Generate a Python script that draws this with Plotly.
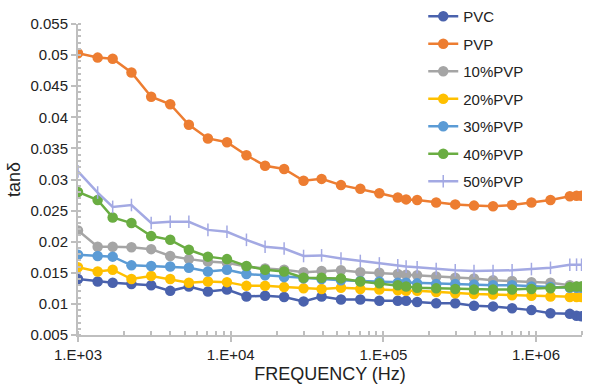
import plotly.graph_objects as go

freq = [1000, 1345, 1687, 2239, 3015, 4018, 5323, 7096, 9456, 12685,
        16800, 22387, 30017, 39390, 52780, 70630, 94120, 124310, 140930, 166460,
        221830, 295660, 392340, 522800, 696800, 932900, 1243000, 1664000, 1842000, 1986000]

pvc = [0.0140, 0.0136, 0.0134, 0.0132, 0.0130, 0.0121, 0.0128, 0.0120, 0.0123, 0.0112,
       0.0113, 0.0111, 0.0104, 0.0112, 0.0107, 0.0107, 0.0105, 0.0105, 0.0105, 0.0103,
       0.0101, 0.0101, 0.0097, 0.0096, 0.0093, 0.0090, 0.0085, 0.0084, 0.0081, 0.0080]
pvp = [0.0503, 0.0496, 0.0494, 0.0472, 0.0433, 0.0421, 0.0388, 0.0366, 0.0360, 0.0339,
       0.0322, 0.0317, 0.0298, 0.0301, 0.0291, 0.0285, 0.0278, 0.0271, 0.0268, 0.0267,
       0.0263, 0.0260, 0.0258, 0.0257, 0.0259, 0.0263, 0.0267, 0.0273, 0.0274, 0.0274]
pvp10 = [0.0218, 0.0192, 0.0192, 0.0191, 0.0188, 0.0177, 0.0172, 0.0168, 0.0166, 0.0160,
         0.0157, 0.0155, 0.0151, 0.0153, 0.0154, 0.0151, 0.0150, 0.0148, 0.0147, 0.0146,
         0.0144, 0.0142, 0.0141, 0.0138, 0.0137, 0.0135, 0.0134, 0.0130, 0.0128, 0.0128]
pvp20 = [0.0159, 0.0152, 0.0155, 0.0140, 0.0145, 0.0140, 0.0134, 0.0136, 0.0135, 0.0129,
         0.0129, 0.0127, 0.0125, 0.0124, 0.0126, 0.0124, 0.0123, 0.0122, 0.0121, 0.0121,
         0.0119, 0.0117, 0.0116, 0.0115, 0.0114, 0.0113, 0.0112, 0.0111, 0.0111, 0.0111]
pvp30 = [0.0179, 0.0177, 0.0176, 0.0162, 0.0161, 0.0160, 0.0158, 0.0152, 0.0155, 0.0148,
         0.0146, 0.0143, 0.0141, 0.0140, 0.0138, 0.0137, 0.0136, 0.0134, 0.0134, 0.0133,
         0.0132, 0.0132, 0.0131, 0.0130, 0.0130, 0.0128, 0.0127, 0.0126, 0.0126, 0.0126]
pvp40 = [0.0280, 0.0267, 0.0239, 0.0230, 0.0209, 0.0203, 0.0187, 0.0176, 0.0172, 0.0161,
         0.0155, 0.0152, 0.0142, 0.0142, 0.0141, 0.0136, 0.0133, 0.0130, 0.0128, 0.0126,
         0.0125, 0.0124, 0.0123, 0.0123, 0.0123, 0.0124, 0.0125, 0.0127, 0.0128, 0.0128]
pvp50 = [0.0313, 0.0279, 0.0256, 0.0259, 0.0230, 0.0232, 0.0232, 0.0219, 0.0216, 0.0203,
         0.0192, 0.0189, 0.0177, 0.0178, 0.0173, 0.0169, 0.0165, 0.0162, 0.0160, 0.0159,
         0.0156, 0.0154, 0.0153, 0.0153, 0.0154, 0.0156, 0.0158, 0.0163, 0.0163, 0.0163]

series_names = ["PVC", "PVP", "10%PVP", "20%PVP", "30%PVP", "40%PVP", "50%PVP"]
series_vals = [pvc, pvp, pvp10, pvp20, pvp30, pvp40, pvp50]
colors = ["#4a62ad", "#ed7d31", "#a5a5a5", "#ffc000", "#5b9bd5", "#6aad42", "#a3a9e3"]

y_tickvals = [0.005, 0.01, 0.015, 0.02, 0.025, 0.03, 0.035, 0.04, 0.045, 0.05, 0.055]
y_ticktext = ["0.005", "0.01", "0.015", "0.02", "0.025", "0.03", "0.035", "0.04", "0.045", "0.05", "0.055"]
x_tickvals = [1e3, 1e4, 1e5, 1e6]
x_ticktext = ["1.E+03", "1.E+04", "1.E+05", "1.E+06"]

fig = go.Figure()
for i, (name, vals, col) in enumerate(zip(series_names, series_vals, colors)):
    if name == "50%PVP":
        marker = dict(symbol="line-ns", size=9, color=col, line=dict(color=col, width=1.5))
    else:
        marker = dict(symbol="circle", size=10.5, color=col)
    fig.add_trace(go.Scatter(x=freq, y=vals, name=name, mode="lines+markers",
                             line=dict(color=col, width=2.5), marker=marker,
                             legendgroup=f"g{i}"))

axis_col = "#bfbfbf"
font_fam = "Liberation Sans, Arial, sans-serif"
fig.update_layout(
    width=594, height=387,
    margin=dict(l=78, r=12, t=24, b=52, autoexpand=False),
    paper_bgcolor="white", plot_bgcolor="white",
    font=dict(family=font_fam, size=15, color="#222222"),
    showlegend=True,
    legend=dict(x=0.685, y=1.077, xanchor="left", yanchor="top",
                bgcolor="rgba(255,255,255,0)", font=dict(size=15, color="#222222"),
                tracegroupgap=5, maxheight=380),
    xaxis=dict(type="log", range=[3, 6.301], showgrid=False, zeroline=False,
               showline=True, linecolor=axis_col, linewidth=2, automargin=False,
               tickmode="array", tickvals=x_tickvals, ticktext=x_ticktext,
               ticks="outside", ticklen=5, tickcolor=axis_col, tickwidth=1.5,
               minor=dict(ticks="inside", ticklen=4, tickcolor=axis_col, dtick="D1", showgrid=False),
               title=dict(text="FREQUENCY (Hz)", standoff=5)),
    yaxis=dict(range=[0.005, 0.055], showgrid=False, zeroline=False,
               showline=True, linecolor=axis_col, linewidth=2, automargin=False,
               tickmode="array", tickvals=y_tickvals, ticktext=y_ticktext,
               ticks="outside", ticklen=5, tickcolor=axis_col, tickwidth=1.5,
               minor=dict(ticks="inside", ticklen=3, tickcolor=axis_col, dtick=0.001, showgrid=False),
               title=dict(text="tanδ", standoff=5)),
)

fig.write_html("out.html")
